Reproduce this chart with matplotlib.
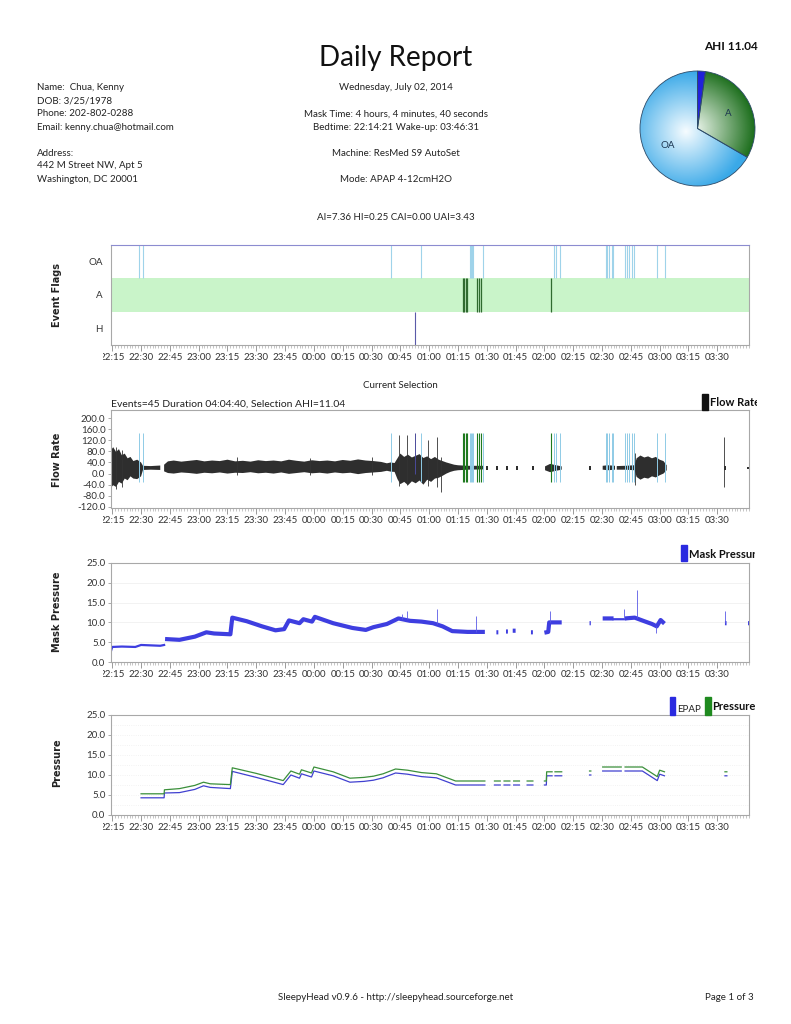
"""
SleepyHead daily report page: event flags, flow rate, mask pressure and
pressure traces for one night, plus header text and the AHI pie.
"""

import numpy as np
import matplotlib
matplotlib.use("Agg")
import matplotlib.pyplot as plt
from matplotlib.colors import LinearSegmentedColormap
from matplotlib.patches import Rectangle
from matplotlib.ticker import FixedLocator, FuncFormatter, MultipleLocator, FormatStrFormatter
from matplotlib.transforms import Bbox, TransformedBbox

plt.rcParams['font.family'] = ['Lato', 'DejaVu Sans']

W, H = 791, 1024

# ---------------------------------------------------------------- data
session_start = "22:14:21"
session_end = "03:46:31"

pie_labels = ['', 'A', 'OA']          # H slice has no label
pie_counts = [1, 14, 30]

oa_events = ["22:29:05", "22:30:52", "00:40:09", "00:55:36", "01:21:18", "01:21:50",
             "01:22:28", "01:23:00", "01:28:13", "02:05:03", "02:05:57", "02:08:11",
             "02:31:57", "02:32:47", "02:33:50", "02:35:03", "02:35:55", "02:41:57",
             "02:42:50", "02:44:13", "02:45:27", "02:46:30", "02:58:39", "03:02:39"]
a_events = ["01:17:29", "01:18:20", "01:19:03", "01:19:34", "01:24:57", "01:25:50",
            "01:27:02", "02:03:27"]
h_events = ["00:52:45"]

# flow rate envelope (upper / lower), None = no data
flow_t = ["22:14:21", "22:15:30", "22:17:00", "22:18:30", "22:20:00", "22:21:30",
          "22:23:00", "22:24:30", "22:26:00", "22:28:00", "22:30:00", "22:31:00",
          "22:35:00", "22:40:00", None,
          "22:42:00", "22:44:00", "22:47:00", "22:51:00", "22:55:00", "22:59:00",
          "23:03:00", "23:07:00", "23:11:00", "23:15:00", "23:19:00", "23:23:00",
          "23:27:00", "23:31:00", "23:35:00", "23:39:00", "23:43:00", "23:47:00",
          "23:51:00", "23:55:00", "23:59:00", "00:03:00", "00:07:00", "00:11:00",
          "00:15:00", "00:19:00", "00:23:00", "00:27:00", "00:31:00", "00:35:00",
          "00:38:00", "00:40:00", "00:42:00", "00:43:30", "00:45:00", "00:47:00",
          "00:49:00", "00:51:00", "00:53:00", "00:55:00", "00:57:00", "00:59:00",
          "01:01:00", "01:03:00", "01:05:00", "01:07:00", "01:09:00", "01:11:00",
          "01:13:00", "01:15:00", "01:20:00", "01:28:00", None,
          "01:29:30", "01:30:30", None, "01:35:00", "01:36:00", None,
          "01:40:15", "01:41:15", None, "01:45:00", "01:46:30", None,
          "01:53:30", "01:54:30", None,
          "02:00:20", "02:03:00", "02:06:00", "02:09:00", None,
          "02:23:15", "02:24:15", None,
          "02:30:20", "02:33:00", "02:36:45", None,
          "02:37:40", "02:42:00", "02:47:00", "02:48:00", "02:50:00", "02:52:00",
          "02:54:00", "02:56:00", "02:58:00", "03:00:00", "03:02:00", "03:03:40", None,
          "03:33:20", "03:34:20", None, "03:45:40", "03:46:31"]
flow_hi = [85, 95, 78, 88, 66, 72, 55, 60, 45, 50, 40, 28, 27, 29, None,
           32, 44, 47, 43, 46, 49, 44, 47, 45, 50, 44, 46, 43, 48, 45, 47, 44, 50,
           46, 43, 48, 45, 47, 44, 49, 46, 51, 47, 45, 42, 37, 40, 38, 55, 72, 60,
           68, 58, 64, 70, 56, 62, 52, 60, 50, 45, 40, 36, 32, 30, 28, 28, None,
           26, 26, None, 26, 26, None, 26, 26, None, 27, 27, None, 26, 26, None,
           26, 35, 30, 26, None,
           26, 26, None,
           28, 30, 28, None,
           27, 28, 30, 55, 65, 58, 62, 55, 60, 50, 45, 30, None,
           26, 26, None, 24, 24]
flow_lo = [-50, -42, -48, -30, -36, -18, -24, -10, -18, -20, -10, 13, 14, 13, None,
           8, 2, 0, 4, 2, -1, 3, 1, 4, 0, 3, 2, 5, 1, 3, 0, 4, -1,
           2, 5, 1, 3, 0, 4, 1, 3, -2, 2, 4, 6, 10, 7, 6, -20, -38, -30,
           -42, -28, -35, -25, -40, -22, -30, -18, -15, -8, 0, 6, 10, 12, 14, 15, None,
           14, 14, None, 14, 14, None, 14, 14, None, 13, 13, None, 14, 14, None,
           12, 5, 10, 14, None,
           14, 14, None,
           14, 12, 14, None,
           14, 14, 12, -12, -22, -15, -18, -10, -14, -6, 0, 12, None,
           14, 14, None, 16, 16]

flow_spike_t = ["22:17:00", "22:20:00", "23:20:00", "23:58:00", "00:30:00", "00:44:30",
                "00:48:20", "00:59:20", "01:03:57", "01:06:00", "02:03:20", "02:47:00",
                "03:33:44"]
flow_spike_hi = [95, 85, 58, 56, 58, 140, 140, 120, 130, 60, 70, 75, 130]
flow_spike_lo = [-55, -50, -5, -4, -6, -45, -40, -45, -50, -65, -10, -40, -50]

# mask pressure
mask_thin_t = ["22:14:21", "22:15:00", "22:20:00", "22:27:00", "22:30:00", "22:35:00",
               "22:40:00", "22:42:00", None, "02:36:00", "02:42:00"]
mask_thin_p = [2.8, 3.8, 3.9, 3.8, 4.3, 4.2, 4.1, 4.3, None, 10.8, 10.8]
mask_t = ["22:42:30", "22:50:00", "22:58:00", "23:04:00", "23:08:00", "23:16:30",
          "23:17:30", "23:25:00", "23:33:00", "23:40:00", "23:44:30", "23:47:00",
          "23:52:30", "23:54:30", "23:59:00", "00:00:30", "00:10:00", "00:20:00",
          "00:27:00", "00:31:00", "00:38:00", "00:44:00", "00:50:00", "00:56:00",
          "01:02:00", "01:07:00", "01:12:00", "01:20:00", "01:29:00", None,
          "01:35:00", "01:36:00", None, "01:40:00", "01:41:00", None,
          "01:43:30", "01:45:00", None, "01:53:00", "01:54:00", None,
          "02:00:00", "02:02:00", "02:02:30", "02:09:00", None,
          "02:23:30", "02:24:10", None,
          "02:30:20", "02:36:00", None,
          "02:42:00", "02:47:00", "02:52:00", "02:56:00", "02:58:30", "03:00:30",
          "03:02:30", None,
          "03:34:00", "03:34:50", None, "03:46:00", "03:46:31"]
mask_p = [5.8, 5.6, 6.4, 7.5, 7.2, 7.0, 11.2, 10.3, 9.0, 8.0, 8.3, 10.5,
          9.8, 10.8, 10.2, 11.4, 9.8, 8.6, 8.1, 8.8, 9.6, 11.0, 10.4, 10.2,
          9.8, 9.0, 7.8, 7.6, 7.6, None,
          7.5, 7.5, None, 7.7, 7.7, None, 7.9, 7.9, None, 7.5, 7.5, None,
          7.4, 7.6, 10.0, 10.0, None,
          9.8, 9.8, None,
          11.0, 11.0, None,
          11.0, 11.2, 10.3, 9.6, 9.0, 10.6, 9.7, None,
          9.8, 9.8, None, 9.8, 9.8]
mask_spike_t = ["00:46:00", "00:48:20", "01:04:00", "01:24:30", "02:03:00",
                "02:41:30", "02:48:00", "02:58:00", "03:33:50"]
mask_spike_lo = [10.8, 10.8, 9.6, 7.6, 10.0, 10.8, 11.0, 7.3, 9.8]
mask_spike_hi = [12.0, 13.0, 13.5, 11.5, 13.0, 13.5, 18.3, 9.0, 13.0]

# set pressure (green) and EPAP (blue)
press_t = ["22:30:00", "22:42:00", "22:42:10", "22:50:00", "22:58:00", "23:02:30",
           "23:06:00", "23:16:30", "23:17:30", "23:30:00", "23:44:00", "23:45:30",
           "23:48:00", "23:52:30", "23:53:30", "23:58:45", "00:00:00", "00:10:00",
           "00:18:45", "00:26:00", "00:31:00", "00:36:00", "00:42:30", "00:48:45",
           "00:56:00", "01:03:45", "01:11:00", "01:13:45", "01:29:00", None,
           "01:34:00", "01:37:00", None, "01:39:00", "01:42:00", None,
           "01:44:00", "01:47:00", None, "01:51:00", "01:54:00", None,
           "02:00:00", "02:01:00", "02:01:10", "02:04:00", None,
           "02:05:30", "02:09:00", None, "02:23:30", "02:24:10", None,
           "02:30:20", "02:40:00", None,
           "02:42:00", "02:51:00", "02:58:45", "03:00:00", "03:02:30", None,
           "03:34:00", "03:35:00"]
press_val = [5.3, 5.3, 6.3, 6.6, 7.4, 8.2, 7.8, 7.6, 11.8, 10.4, 8.6, 9.5,
             11.0, 10.2, 11.3, 10.5, 12.0, 10.8, 9.2, 9.4, 9.7, 10.3, 11.5, 11.2,
             10.6, 10.3, 9.0, 8.5, 8.5, None,
             8.5, 8.5, None, 8.5, 8.5, None, 8.5, 8.5, None, 8.5, 8.5, None,
             8.5, 8.5, 10.8, 10.8, None,
             10.8, 10.8, None, 11.0, 11.0, None,
             12.0, 12.0, None,
             12.0, 12.0, 9.6, 11.2, 10.8, None,
             10.8, 10.8]
epap_val = [4.3, 4.3, 5.5, 5.6, 6.4, 7.3, 6.9, 6.6, 10.9, 9.4, 7.6, 8.5,
            10.0, 9.2, 10.3, 9.5, 11.0, 9.8, 8.2, 8.4, 8.7, 9.3, 10.5, 10.2,
            9.6, 9.3, 8.0, 7.5, 7.5, None,
            7.5, 7.5, None, 7.5, 7.5, None, 7.5, 7.5, None, 7.5, 7.5, None,
            7.5, 7.5, 9.8, 9.8, None,
            9.8, 9.8, None, 10.0, 10.0, None,
            11.0, 11.0, None,
            11.0, 11.0, 8.6, 10.2, 9.8, None,
            9.8, 9.8]

tick_times = ["22:15", "22:30", "22:45", "23:00", "23:15", "23:30", "23:45", "00:00",
              "00:15", "00:30", "00:45", "01:00", "01:15", "01:30", "01:45", "02:00",
              "02:15", "02:30", "02:45", "03:00", "03:15", "03:30"]


# ---------------------------------------------------------------- helpers
def hours(s):
    """Clock string -> hours, times after midnight continue past 24."""
    if s is None:
        return np.nan
    parts = [int(p) for p in s.split(':')]
    while len(parts) < 3:
        parts.append(0)
    h = parts[0] + 24 if parts[0] < 12 else parts[0]
    return h + parts[1] / 60 + parts[2] / 3600


def arr_t(labels):
    return np.array([hours(s) for s in labels])


def arr_v(vals):
    return np.array([np.nan if v is None else v for v in vals], dtype=float)


def clock(v, pos=None):
    total = int(round(v * 60)) % (24 * 60)
    return f"{total // 60:02d}:{total % 60:02d}"


def px_rect(left, top, right, bottom):
    return [left / W, 1 - bottom / H, (right - left) / W, (bottom - top) / H]


def clip_right(artist, x_px):
    box = TransformedBbox(Bbox([[0, 0], [x_px / W, 1]]), fig.transFigure)
    artist.set_clip_box(box)
    artist.set_clip_on(True)


T0, T1 = hours(session_start), hours(session_end)


def style_time_axis(ax):
    ax.set_xlim(T0, T1)
    ax.xaxis.set_major_locator(FixedLocator(arr_t(tick_times)))
    ax.xaxis.set_major_formatter(FuncFormatter(clock))
    ax.xaxis.set_minor_locator(MultipleLocator(0.025))
    ax.tick_params(axis='x', which='major', length=4, width=0.6, color='#8a8a8a',
                   labelsize=7, labelcolor='#333333', pad=2)
    ax.tick_params(axis='x', which='minor', length=2.5, width=0.4, color='#9a9a9a')
    ax.tick_params(axis='y', length=2.5, width=0.5, color='#8a8a8a',
                   labelsize=7, labelcolor='#333333', pad=1.5)
    for sp in ax.spines.values():
        sp.set_color('#a8a8a8')
        sp.set_linewidth(0.8)
    first = ax.xaxis.get_major_ticks()[0].label1
    left = TransformedBbox(Bbox([[103 / W, 0], [1, 1]]), fig.transFigure)
    first.set_clip_box(left)
    first.set_clip_on(True)


def side_label(y_px, text):
    fig.text(57 / W, 1 - y_px / H, text, rotation=90, ha='center', va='center',
             fontsize=7, fontweight='bold', family='DejaVu Sans', color='#222222')


# ---------------------------------------------------------------- figure
fig = plt.figure(figsize=(W / 100, H / 100), dpi=100)
fig.patch.set_facecolor('white')

txt = dict(fontsize=7, color='#222222')
fig.text(396 / W, 1 - 58 / H, 'Daily Report', ha='center', va='center',
         fontsize=20, color='#111111')
left_lines = [(88, 'Name:  Chua, Kenny'), (101, 'DOB: 3/25/1978'),
              (114, 'Phone: 202-802-0288'), (127, 'Email: kenny.chua@hotmail.com'),
              (153, 'Address:'), (166, '442 M Street NW, Apt 5'),
              (179, 'Washington, DC 20001')]
for y, s in left_lines:
    fig.text(37 / W, 1 - y / H, s, ha='left', va='center', **txt)
center_lines = [(88, 'Wednesday, July 02, 2014'),
                (114, 'Mask Time: 4 hours, 4 minutes, 40 seconds'),
                (127, 'Bedtime: 22:14:21 Wake-up: 03:46:31'),
                (153, 'Machine: ResMed S9 AutoSet'),
                (179, 'Mode: APAP 4-12cmH2O'),
                (217, 'AI=7.36 HI=0.25 CAI=0.00 UAI=3.43')]
for y, s in center_lines:
    fig.text(396 / W, 1 - y / H, s, ha='center', va='center', **txt)
fig.text(731 / W, 1 - 46 / H, 'AHI 11.04', ha='center', va='center',
         fontsize=8.5, fontweight='bold', color='#111111')
fig.text(396 / W, 1 - 997 / H, 'SleepyHead v0.9.6 - http://sleepyhead.sourceforge.net',
         ha='center', va='center', **txt)
fig.text(754 / W, 1 - 997 / H, 'Page 1 of 3', ha='right', va='center', **txt)

# ---- pie
pcx, pcy, pr = 697.5, 128.5, 57.5
pax = fig.add_axes(px_rect(pcx - 1.05 * pr, pcy - 1.05 * pr, pcx + 1.05 * pr, pcy + 1.05 * pr))
wedges, _ = pax.pie(pie_counts, labels=pie_labels, startangle=90, counterclock=False,
                    labeldistance=0.6, colors=['#2626e0', '#5a9a5a', '#6cc0ee'],
                    wedgeprops=dict(linewidth=0.6, edgecolor='#2c4a68'),
                    textprops=dict(fontsize=7, color='#1c3550', ha='center', va='center'))
gradients = [('#2626e0', '#2020d8', 0.0, 0.0),
             ('#eef7ee', '#1c6e1c', -0.05, 0.0),
             ('#f6fcff', '#3aa9e8', -0.2, -0.05)]
yy, xx = np.mgrid[-1:1:240j, -1:1:240j]
for wedge, (c0, c1, gx, gy) in zip(wedges, gradients):
    cmap = LinearSegmentedColormap.from_list('grad', [c0, c1])
    im = pax.imshow(np.hypot(xx - gx, yy - gy), cmap=cmap, vmin=0, vmax=1.05,
                    extent=(-1, 1, -1, 1), origin='lower', zorder=0.5)
    im.set_clip_path(wedge)
    wedge.set_facecolor('none')
pax.set_xlim(-1.05, 1.05)
pax.set_ylim(-1.05, 1.05)
pax.set_aspect('equal')
pax.axis('off')

# ---- event flags
fax = fig.add_axes(px_rect(111, 245, 749, 345))
fax.axhspan(1, 2, color='#c9f4c9', lw=0, zorder=0)
fax.vlines(arr_t(oa_events), 2, 3, color='#9fd3ea', lw=0.8)
fax.vlines(arr_t(a_events), 1, 2, color='#2f6a2f', lw=0.9)
fax.vlines(arr_t(h_events), 0, 1, color='#5a5aa8', lw=0.8)
fax.set_ylim(0, 3)
fax.set_yticks([0.5, 1.5, 2.5])
fax.set_yticklabels(['H', 'A', 'OA'])
style_time_axis(fax)
fax.tick_params(axis='y', length=0, pad=6)
fax.spines['top'].set_color('#8c8cd0')
side_label(295, 'Event Flags')

# ---- flow rate
fig.text(400 / W, 1 - 386 / H, 'Current Selection', ha='center', va='center', **txt)
fig.text(111 / W, 1 - 404 / H, 'Events=45 Duration 04:04:40, Selection AHI=11.04',
         ha='left', va='center', fontsize=7.5, color='#222222')
wax = fig.add_axes(px_rect(111, 410, 749, 508))
wax.vlines(arr_t(oa_events), -30, 145, color='#8fcbe6', lw=0.7, zorder=3)
wax.vlines(arr_t(a_events), -30, 145, color='#1f7a1f', lw=0.8, zorder=3)
wax.vlines(arr_t(h_events), 0, 145, color='#4a4a9a', lw=0.7, zorder=3)
wax.fill_between(arr_t(flow_t), arr_v(flow_lo), arr_v(flow_hi), color='#2e2e2e',
                 lw=0, zorder=2)
wax.vlines(arr_t(flow_spike_t), flow_spike_lo, flow_spike_hi, color='#333333', lw=0.6,
           zorder=2)
wax.set_ylim(-124, 229)
wax.set_yticks([200, 160, 120, 80, 40, 0, -40, -80, -120])
wax.yaxis.set_major_formatter(FormatStrFormatter('%.1f'))
style_time_axis(wax)
side_label(460, 'Flow Rate')

# ---- mask pressure
max_ = fig.add_axes(px_rect(111, 563, 749, 662))
max_.plot(arr_t(mask_thin_t), arr_v(mask_thin_p), color='#3e3ee0', lw=1.6)
max_.plot(arr_t(mask_t), arr_v(mask_p), color='#3e3ee0', lw=3.0, solid_capstyle='butt')
max_.vlines(arr_t(mask_spike_t), mask_spike_lo, mask_spike_hi, color='#5a5ae6', lw=0.6)
max_.set_ylim(0, 25)
max_.set_yticks([0, 5, 10, 15, 20, 25])
max_.yaxis.set_major_formatter(FormatStrFormatter('%.1f'))
max_.grid(axis='y', color='#f0f0f0', lw=0.6)
max_.set_axisbelow(True)
style_time_axis(max_)
side_label(612, 'Mask Pressure')

# ---- pressure
pax2 = fig.add_axes(px_rect(111, 715, 749, 815))
pax2.plot(arr_t(press_t), arr_v(epap_val), color='#4040d0', lw=0.9)
pax2.plot(arr_t(press_t), arr_v(press_val), color='#3a8f3a', lw=0.9)
pax2.set_ylim(0, 25)
pax2.set_yticks([0, 5, 10, 15, 20, 25])
pax2.yaxis.set_major_formatter(FormatStrFormatter('%.1f'))
pax2.yaxis.set_minor_locator(MultipleLocator(2.5))
pax2.grid(axis='y', which='both', color='#eeeeee', lw=0.6, ls=':')
pax2.tick_params(axis='y', which='minor', length=0)
pax2.set_axisbelow(True)
style_time_axis(pax2)
side_label(763, 'Pressure')

# ---- legends (clipped at page edge like the original)
leg_bold = dict(fontsize=8, fontweight='bold', color='#111111', va='center', ha='left')
fig.patches.append(Rectangle((702 / W, 1 - 410 / H), 6 / W, 16 / H,
                             transform=fig.transFigure, color='#111111'))
clip_right(fig.text(710 / W, 1 - 403 / H, 'Flow Rate', **leg_bold), 757)
fig.patches.append(Rectangle((681 / W, 1 - 561 / H), 6 / W, 16 / H,
                             transform=fig.transFigure, color='#2a2ae0'))
clip_right(fig.text(689 / W, 1 - 554 / H, 'Mask Pressure', **leg_bold), 755)
fig.patches.append(Rectangle((670 / W, 1 - 715 / H), 5 / W, 18 / H,
                             transform=fig.transFigure, color='#2a2ae0'))
fig.text(677 / W, 1 - 709 / H, 'EPAP', fontsize=7, color='#222222', va='center', ha='left')
fig.patches.append(Rectangle((705 / W, 1 - 715 / H), 6 / W, 18 / H,
                             transform=fig.transFigure, color='#1f8a1f'))
clip_right(fig.text(712 / W, 1 - 707 / H, 'Pressure', **leg_bold), 757)

fig.savefig('out.png', dpi=100, facecolor='white')
